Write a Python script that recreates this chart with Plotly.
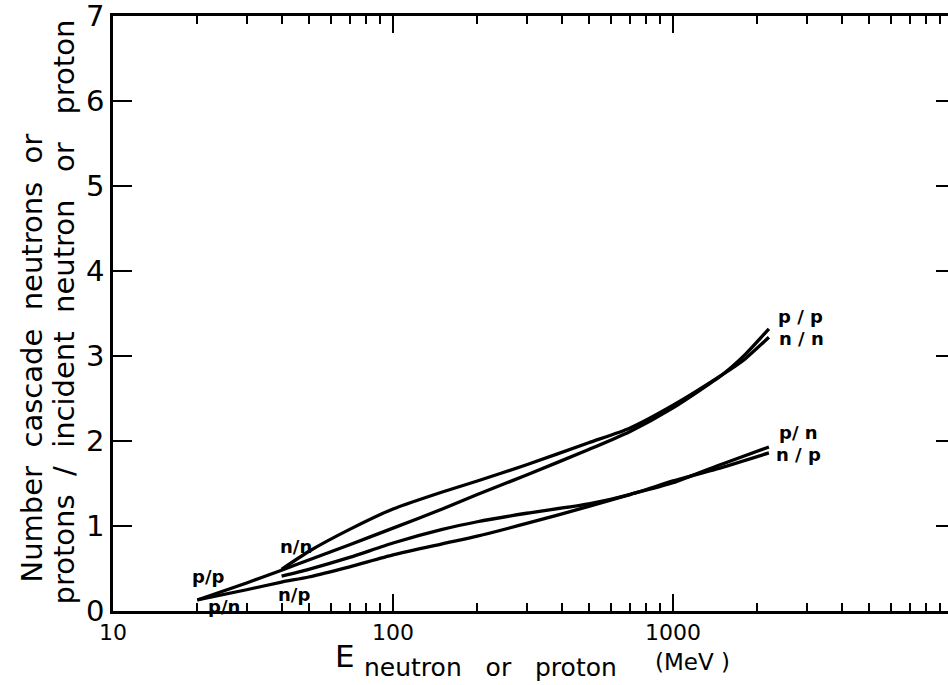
import math
import plotly.graph_objects as go

# ---------------- data ----------------
energy_pp = [20, 30, 40, 50, 70, 100, 150, 200, 300, 500, 700, 1000, 1500, 1800, 2200]
yield_pp = [0.13, 0.33, 0.48, 0.60, 0.78, 0.975, 1.20, 1.37, 1.60, 1.90, 2.11, 2.39, 2.78, 3.01, 3.32]

energy_nn = [40, 50, 70, 100, 150, 200, 300, 500, 700, 1000, 1500, 1800, 2200]
yield_nn = [0.49, 0.70, 0.96, 1.20, 1.40, 1.53, 1.72, 1.98, 2.15, 2.42, 2.78, 2.96, 3.22]

energy_np = [40, 50, 70, 100, 150, 200, 300, 500, 700, 1000, 1500, 2200]
yield_np = [0.41, 0.49, 0.63, 0.80, 0.96, 1.05, 1.15, 1.26, 1.37, 1.53, 1.69, 1.86]

energy_pn = [20, 30, 40, 50, 70, 100, 150, 200, 300, 500, 700, 1000, 1500, 2200]
yield_pn = [0.13, 0.25, 0.34, 0.40, 0.52, 0.66, 0.79, 0.88, 1.03, 1.23, 1.37, 1.51, 1.73, 1.93]

x_major_ticks = [10, 100, 1000]
x_major_text = ["10", "100", "1000"]
x_minor_ticks = [m * d for d in (10, 100, 1000) for m in range(2, 10)]
y_ticks = [0, 1, 2, 3, 4, 5, 6, 7]

# ---------------- figure ----------------
W, H = 948, 685
ML, MR, MT, MB = 113, 0, 16, 74
PW, PH = W - ML - MR, H - MT - MB
XR = [1, 3.982]
YR = [0, 7]

def px(xp):
    return (xp - ML) / PW

def py(yp):
    return (H - MB - yp) / PH

FONT = "DejaVu Sans"
line_style = dict(color="black", width=3.3, shape="spline", smoothing=0.6)

fig = go.Figure()
series = [
    ("p/p", energy_pp, yield_pp),
    ("n/n", energy_nn, yield_nn),
    ("n/p", energy_np, yield_np),
    ("p/n", energy_pn, yield_pn),
]
for name, e, v in series:
    fig.add_trace(go.Scatter(x=e, y=v, mode="lines", line=line_style,
                             name=name, showlegend=False, hoverinfo="skip"))

# invisible helper traces so the extra tick axes are rendered
fig.add_trace(go.Scatter(x=[100], y=[1], xaxis="x2", yaxis="y", mode="markers",
                         marker=dict(opacity=0), showlegend=False, hoverinfo="skip"))
fig.add_trace(go.Scatter(x=[100], y=[1], xaxis="x", yaxis="y2", mode="markers",
                         marker=dict(opacity=0), showlegend=False, hoverinfo="skip"))

lab_font = dict(family=FONT, size=18, color="black", weight="bold")

def end_label(text, e, v, idx, dx, dy):
    fig.add_annotation(x=math.log10(e[idx]), y=v[idx], xref="x", yref="y",
                       text=text, showarrow=False, xanchor="center", yanchor="middle",
                       xshift=dx, yshift=dy, font=lab_font)

end_label("p / p", energy_pp, yield_pp, -1, 32, 12)
end_label("n / n", energy_nn, yield_nn, -1, 33, -1)
end_label("p/ n", energy_pn, yield_pn, -1, 30, 14)
end_label("n / p", energy_np, yield_np, -1, 30, -2)
end_label("p/p", energy_pp, yield_pp, 0, 11, 23)
end_label("p/n", energy_pn, yield_pn, 0, 27, -7)
end_label("n/n", energy_nn, yield_nn, 0, 14, 23)
end_label("n/p", energy_np, yield_np, 0, 12, -18)

# axis titles
title_font = dict(family=FONT, size=29, color="black")
sp2 = "\u00a0\u00a0"
sp3 = "\u00a0\u00a0\u00a0"
fig.add_annotation(xref="paper", yref="paper", x=px(31), y=py(585), textangle=-90,
                   text="Number" + sp2 + "cascade" + sp2 + "neutrons" + sp2 + "or",
                   showarrow=False, xanchor="center", yanchor="bottom", font=title_font)
fig.add_annotation(xref="paper", yref="paper", x=px(63), y=py(607), textangle=-90,
                   text="protons" + sp2 + "/" + sp2 + "incident" + sp2 + "neutron" + sp3 + "or" + sp3 + "proton",
                   showarrow=False, xanchor="center", yanchor="bottom", font=title_font)

fig.add_annotation(xref="paper", yref="paper", x=px(345), y=py(656), text="E",
                   showarrow=False, xanchor="center", yanchor="middle",
                   font=dict(family=FONT, size=31, color="black"))
fig.add_annotation(xref="paper", yref="paper", x=px(362), y=py(667),
                   text="neutron" + sp3 + "or" + sp3 + "proton",
                   showarrow=False, xanchor="left", yanchor="middle",
                   font=dict(family=FONT, size=25, color="black"))
fig.add_annotation(xref="paper", yref="paper", x=px(692), y=py(662), text="(MeV )",
                   showarrow=False, xanchor="center", yanchor="middle",
                   font=dict(family=FONT, size=23, color="black"))

fig.update_layout(
    width=W, height=H,
    margin=dict(l=ML, r=MR, t=MT, b=MB, pad=0),
    paper_bgcolor="white", plot_bgcolor="white",
    showlegend=False,
    xaxis=dict(type="log", range=XR, tickmode="array", tickvals=x_major_ticks,
               ticktext=x_major_text, ticks="inside", ticklen=17, tickwidth=2,
               tickcolor="black", showline=True, linecolor="black", linewidth=2.5,
               mirror="ticks", showgrid=False, zeroline=False,
               ticklabeloverflow="allow",
               tickfont=dict(family=FONT, size=22, color="black")),
    xaxis2=dict(type="log", range=XR, overlaying="x", anchor="y", side="bottom",
                tickmode="array", tickvals=x_minor_ticks, ticks="inside", ticklen=8,
                tickwidth=1.6, tickcolor="black", showticklabels=False,
                showline=False, mirror="ticks", showgrid=False, zeroline=False),
    yaxis=dict(range=YR, tickmode="array", tickvals=y_ticks, ticks="inside",
               ticklen=19, tickwidth=2, tickcolor="black", showline=True,
               linecolor="black", linewidth=2.5, mirror=False, showgrid=False,
               zeroline=False, ticklabeloverflow="allow",
               tickfont=dict(family=FONT, size=29, color="black")),
    yaxis2=dict(range=YR, overlaying="y", anchor="x", side="right",
                tickmode="array", tickvals=y_ticks, ticks="inside", ticklen=12,
                tickwidth=2, tickcolor="black", showticklabels=False,
                showline=False, showgrid=False, zeroline=False),
)

fig.write_html("out.html")
